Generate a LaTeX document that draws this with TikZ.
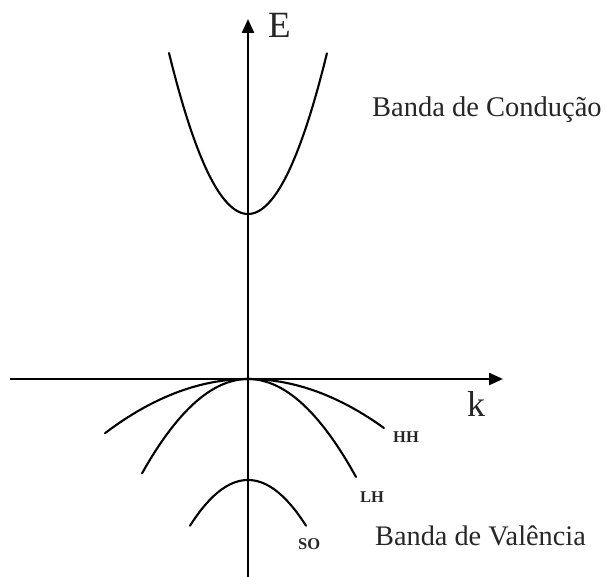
\documentclass[tikz,border=0pt]{standalone}
\usepackage{fontspec}
\setmainfont{Liberation Serif}
\usetikzlibrary{arrows.meta}
\tikzset{
  axis/.style={line width=2.4pt,-{Triangle[length=14pt,width=12pt]}},
  band/.style={line width=2.1pt,line cap=round},
  lbl/.style={inner sep=0pt,anchor=base west,text=black!85},
  small/.style={lbl,font=\fontsize{16.5}{18}\selectfont\bfseries},
}
\begin{document}
\begin{tikzpicture}[x=1pt,y=-1pt]
\useasboundingbox (0,0) rectangle (606,577);
% axes
\coordinate (ybot) at (248,577);
\coordinate (ytop) at (248,19);
\coordinate (xl) at (10,379);
\coordinate (xr) at (503,379);
\draw[axis] (ybot) -- (ytop);
\draw[axis] (xl) -- (xr);
% conduction band
\draw[band] plot[domain=-0.79:0.79,samples=80,smooth] ({248+100*\x},{214-258*\x*\x});
% heavy hole
\draw[band] plot[domain=-1.43:1.36,samples=80,smooth] ({248+100*\x},{379+26.5*\x*\x});
% light hole
\draw[band] plot[domain=-1.06:1.08,samples=80,smooth] ({248+100*\x},{379+84*\x*\x});
% split-off
\draw[band] plot[domain=-0.58:0.58,samples=60,smooth] ({248+100*\x},{480+136*\x*\x});
% labels
\node[lbl,font=\fontsize{37}{40}\selectfont] (E) at (268,38) {E};
\node[lbl,font=\fontsize{36}{38}\selectfont] (k) at (467,417) {k};
\node[lbl,font=\fontsize{28.5}{30}\selectfont] (cb) at (372,117) {Banda de Condução};
\node[lbl,font=\fontsize{28.3}{30}\selectfont] (vb) at (375,546) {Banda de Valência};
\node[small] (hh) at (393,443) {HH};
\node[small] (lh) at (360,503) {LH};
\node[small] (so) at (298,550) {SO};
\end{tikzpicture}
\end{document}
